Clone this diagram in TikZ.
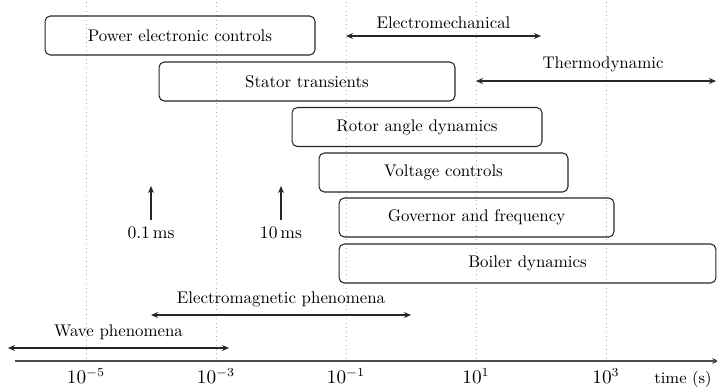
\documentclass[tikz,border=0pt]{standalone}
\usetikzlibrary{arrows.meta}
\begin{document}
\begin{tikzpicture}[x=0.02cm,y=-0.02cm,
  font=\fontsize{9.6}{11}\selectfont,
  phase/.style={draw=black!85,line width=0.6pt,rounded corners=3pt,minimum height=0.78cm,inner sep=0pt},
  grid/.style={draw=black!30,dotted,line width=0.5pt},
  span/.style={{Stealth[length=4pt,width=3.4pt]}-{Stealth[length=4pt,width=3.4pt]},line width=0.6pt,draw=black!85},
  up/.style={-{Stealth[length=4pt,width=3.4pt]},line width=0.6pt,draw=black!85},
  lbl/.style={inner sep=0pt},
  rlbl/.style={inner sep=0pt,anchor=base,midway}]
\useasboundingbox (0,0) rectangle (717,389);
% grid lines
\foreach \x/\n in {86/g1,216/g2,346/g3,476/g4,606/g5}{
  \coordinate (\n t) at (\x,2);
  \coordinate (\n b) at (\x,361);
  \draw[grid] (\n t) -- (\n b);
}
% phase boxes
\node[phase,minimum width=5.4cm] (pec) at (180,35.5) {Power electronic controls};
\node[phase,minimum width=5.92cm] (st) at (307,81.5) {Stator transients};
\node[phase,minimum width=5.0cm] (rad) at (417,127) {Rotor angle dynamics};
\node[phase,minimum width=4.98cm] (vc) at (443.5,172.5) {Voltage controls};
\node[phase,minimum width=5.5cm] (gf) at (476.5,217.5) {Governor and frequency};
\node[phase,minimum width=7.54cm] (bd) at (527.5,263.5) {Boiler dynamics};
% ranges
\coordinate (emA) at (346,36); \coordinate (emB) at (541,36);
\draw[span] (emA) -- (emB) node[rlbl,yshift=4.5pt] (emL) {Electromechanical};
\coordinate (thA) at (476,81); \coordinate (thB) at (716,81);
\draw[span] (thA) -- (thB) node[rlbl,yshift=7.2pt,xshift=4pt] (thL) {Thermodynamic};
\coordinate (mgA) at (151,315); \coordinate (mgB) at (411,315);
\draw[span] (mgA) -- (mgB) node[rlbl,yshift=6.6pt] (mgL) {Electromagnetic phenomena};
\coordinate (wvA) at (8,348); \coordinate (wvB) at (229,348);
\draw[span] (wvA) -- (wvB) node[rlbl,yshift=6.4pt] (wvL) {Wave phenomena};
% markers
\node[lbl] (m1) at (151,233) {$0.1\,\mathrm{ms}$};
\coordinate (m1t) at (151,186);
\draw[up] ([yshift=4pt]m1.north) -- (m1t);
\node[lbl] (m2) at (281,233) {$10\,\mathrm{ms}$};
\coordinate (m2t) at (281,186);
\draw[up] ([yshift=4pt]m2.north) -- (m2t);
% axis
\coordinate (axA) at (15,361); \coordinate (axB) at (719,361);
\draw[-{Stealth[length=4pt,width=3.4pt]},line width=0.6pt,draw=black!70] (axA) -- (axB);
\foreach \x/\e in {86/-5,216/-3,346/-1,476/1,606/3}{
  \node[lbl,anchor=base] (t\x) at (\x,383) {\fontsize{10.5}{12}\selectfont$10^{\e}$};
}
\node[lbl,anchor=base] (tl) at (683,383) {\fontsize{9.2}{11}\selectfont time (s)};
\end{tikzpicture}
\end{document}
